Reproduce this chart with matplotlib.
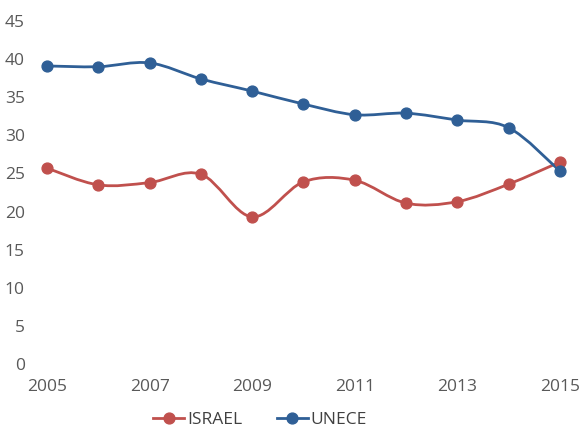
import matplotlib
matplotlib.use("Agg")
import matplotlib.pyplot as plt
import numpy as np
from matplotlib.path import Path
from matplotlib.patches import PathPatch

# values
years = [2005, 2006, 2007, 2008, 2009, 2010, 2011, 2012, 2013, 2014, 2015]
israel = [25.7, 23.5, 23.8, 24.9, 19.3, 23.9, 24.1, 21.1, 21.3, 23.6, 26.5]
unece = [39.1, 39.0, 39.5, 37.4, 35.8, 34.1, 32.7, 32.9, 32.0, 31.0, 25.3]
xticks = [2005, 2007, 2009, 2011, 2013, 2015]
yticks = [0, 5, 10, 15, 20, 25, 30, 35, 40, 45]

red = "#C0504D"
blue = "#2F5F96"
gray = "#595959"

plt.rcParams['font.family'] = ['Open Sans', 'DejaVu Sans']


def smooth_path(x, y):
    # excel-like smoothed line: cubic bezier through each point
    x = np.asarray(x, float)
    y = np.asarray(y, float)
    n = len(x)
    verts = [(x[0], y[0])]
    codes = [Path.MOVETO]
    for i in range(n - 1):
        x0, y0 = (x[i - 1], y[i - 1]) if i > 0 else (x[i], y[i])
        x3, y3 = (x[i + 2], y[i + 2]) if i + 2 < n else (x[i + 1], y[i + 1])
        c1 = (x[i] + (x[i + 1] - x0) / 6, y[i] + (y[i + 1] - y0) / 6)
        c2 = (x[i + 1] - (x3 - x[i]) / 6, y[i + 1] - (y3 - y[i]) / 6)
        verts += [c1, c2, (x[i + 1], y[i + 1])]
        codes += [Path.CURVE4] * 3
    return Path(verts, codes)


fig = plt.figure(figsize=(5.8, 4.28), dpi=100)
ax = fig.add_axes([0.081, 0.1495, 0.8845, 0.8015])

for vals, col, name in [(israel, red, "ISRAEL"), (unece, blue, "UNECE")]:
    ax.add_patch(PathPatch(smooth_path(years, vals), facecolor="none",
                           edgecolor=col, lw=2.0, capstyle="round"))
    ax.plot(years, vals, linestyle="none", marker="o", markersize=7.8,
            color=col)
    ax.plot([], [], color=col, lw=2.0, marker="o", markersize=7.8, label=name)

ax.set_xlim(2005, 2015)
ax.set_ylim(0, 45)
ax.set_xticks(xticks)
ax.set_yticks(yticks)
for s in ax.spines.values():
    s.set_visible(False)
ax.tick_params(length=0, labelsize=12.5, colors=gray, pad=11)
ax.tick_params(axis="y", pad=16)

leg = ax.legend(loc="center", bbox_to_anchor=(0.415, -0.163), ncol=2,
                frameon=False, fontsize=12.5, handlelength=1.8,
                columnspacing=2.0, handletextpad=0.15)
for t in leg.get_texts():
    t.set_color("#404040")
for line in ax.lines:
    line.set_clip_on(False)

fig.savefig("out.png", dpi=100)
